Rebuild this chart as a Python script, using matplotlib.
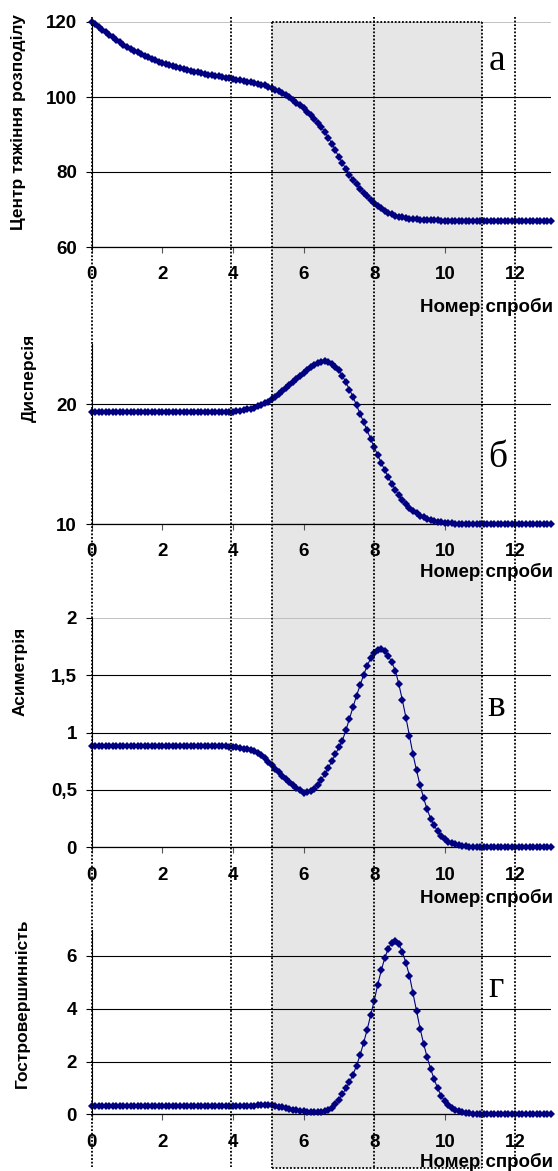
import numpy as np
import matplotlib
matplotlib.use("Agg")
import matplotlib.pyplot as plt
from matplotlib.patches import Rectangle
from matplotlib.lines import Line2D
from matplotlib.transforms import blended_transform_factory
from matplotlib.ticker import FuncFormatter

# ---------------- data ----------------
trial = np.linspace(0, 13, 131)  # sampling positions (step 0.1)

centre = [
    120.0, 119.4, 118.7, 118.0, 117.3, 116.6, 115.9, 115.2, 114.6, 114.0,
    113.4, 112.9, 112.4, 111.9, 111.4, 111.0, 110.6, 110.2, 109.8, 109.4,
    109.1, 108.8, 108.5, 108.2, 107.9, 107.7, 107.4, 107.2, 107.0, 106.8,
    106.6, 106.4, 106.2, 106.0, 105.8, 105.6, 105.5, 105.3, 105.1, 105.0,
    104.8, 104.6, 104.5, 104.3, 104.1, 103.9, 103.7, 103.5, 103.3, 103.1,
    102.8, 102.4, 102.0, 101.6, 101.1, 100.5, 99.9, 99.2, 98.5, 97.8,
    97.0, 96.1, 95.2, 94.2, 93.1, 92.0, 90.7, 89.2, 87.6, 85.8,
    84.0, 82.4, 80.8, 79.3, 78.0, 76.8, 75.6, 74.5, 73.5, 72.6,
    71.8, 71.0, 70.3, 69.7, 69.2, 68.8, 68.4, 68.1, 67.9, 67.7,
    67.6, 67.5, 67.4, 67.3, 67.2, 67.2, 67.1, 67.1, 67.1, 67.0,
    67.0, 67.0, 67.0, 67.0, 67.0, 67.0, 67.0, 67.0, 67.0, 67.0,
    67.0, 67.0, 67.0, 67.0, 67.0, 67.0, 67.0, 67.0, 67.0, 67.0,
    67.0, 67.0, 67.0, 67.0, 67.0, 67.0, 67.0, 67.0, 67.0, 67.0,
    67.0,
]

variance = [
    19.3, 19.3, 19.3, 19.3, 19.3, 19.3, 19.3, 19.3, 19.3, 19.3,
    19.3, 19.3, 19.3, 19.3, 19.3, 19.3, 19.3, 19.3, 19.3, 19.3,
    19.3, 19.3, 19.3, 19.3, 19.3, 19.3, 19.3, 19.3, 19.3, 19.3,
    19.3, 19.3, 19.3, 19.3, 19.3, 19.3, 19.3, 19.3, 19.3, 19.35,
    19.35, 19.4, 19.45, 19.5, 19.55, 19.6, 19.7, 19.8, 19.9, 20.05,
    20.2, 20.4, 20.6, 20.85, 21.1, 21.35, 21.6, 21.85, 22.1, 22.35,
    22.6, 22.85, 23.05, 23.25, 23.4, 23.5, 23.55, 23.5, 23.35, 23.1,
    22.8, 22.35, 21.8, 21.2, 20.6, 19.9, 19.2, 18.5, 17.8, 17.1,
    16.4, 15.75, 15.1, 14.5, 13.9, 13.35, 12.85, 12.4, 12.0, 11.65,
    11.35, 11.1, 10.9, 10.7, 10.55, 10.45, 10.35, 10.25, 10.2, 10.15,
    10.1, 10.07, 10.05, 10.03, 10.02, 10.01, 10.0, 10.0, 10.0, 10.0,
    10.0, 10.0, 10.0, 10.0, 10.0, 10.0, 10.0, 10.0, 10.0, 10.0,
    10.0, 10.0, 10.0, 10.0, 10.0, 10.0, 10.0, 10.0, 10.0, 10.0,
    10.0,
]

skewness = [
    0.88, 0.88, 0.88, 0.88, 0.88, 0.88, 0.88, 0.88, 0.88, 0.88,
    0.88, 0.88, 0.88, 0.88, 0.88, 0.88, 0.88, 0.88, 0.88, 0.88,
    0.88, 0.88, 0.88, 0.88, 0.88, 0.88, 0.88, 0.88, 0.88, 0.88,
    0.88, 0.88, 0.88, 0.88, 0.88, 0.88, 0.88, 0.88, 0.88, 0.875,
    0.873, 0.87, 0.866, 0.86, 0.853, 0.845, 0.835, 0.82, 0.80, 0.775,
    0.745, 0.715, 0.685, 0.655, 0.625, 0.595, 0.565, 0.54, 0.515, 0.495,
    0.475, 0.478, 0.49, 0.51, 0.545, 0.585, 0.635, 0.69, 0.75, 0.81,
    0.87, 0.93, 1.02, 1.12, 1.22, 1.32, 1.41, 1.50, 1.58, 1.645,
    1.69, 1.715, 1.727, 1.71, 1.67, 1.61, 1.54, 1.42, 1.28, 1.13,
    0.97, 0.81, 0.67, 0.54, 0.43, 0.33, 0.25, 0.19, 0.14, 0.10,
    0.07, 0.05, 0.035, 0.025, 0.017, 0.011, 0.007, 0.004, 0.002, 0.001,
    0.0, 0.0, 0.0, 0.0, 0.0, 0.0, 0.0, 0.0, 0.0, 0.0,
    0.0, 0.0, 0.0, 0.0, 0.0, 0.0, 0.0, 0.0, 0.0, 0.0,
    0.0,
]

kurtosis = [
    0.3, 0.3, 0.3, 0.3, 0.3, 0.3, 0.3, 0.3, 0.3, 0.3,
    0.3, 0.3, 0.3, 0.3, 0.3, 0.3, 0.3, 0.3, 0.3, 0.3,
    0.3, 0.3, 0.3, 0.3, 0.3, 0.3, 0.3, 0.3, 0.3, 0.3,
    0.3, 0.3, 0.3, 0.3, 0.3, 0.3, 0.3, 0.3, 0.3, 0.3,
    0.3, 0.3, 0.3, 0.3, 0.3, 0.3, 0.32, 0.35, 0.35, 0.35,
    0.35, 0.34, 0.32, 0.29, 0.26, 0.23, 0.20, 0.17, 0.145, 0.125,
    0.11, 0.095, 0.085, 0.08, 0.08, 0.09, 0.11, 0.15, 0.24, 0.38,
    0.56, 0.76, 0.98, 1.22, 1.50, 1.84, 2.24, 2.70, 3.20, 3.75,
    4.30, 4.90, 5.45, 5.92, 6.28, 6.50, 6.58, 6.45, 6.15, 5.73,
    5.25, 4.58, 3.90, 3.25, 2.68, 2.16, 1.72, 1.32, 0.98, 0.70,
    0.50, 0.36, 0.25, 0.17, 0.12, 0.08, 0.06, 0.04, 0.03, 0.02,
    0.015, 0.01, 0.005, 0.0, 0.0, 0.0, 0.0, 0.0, 0.0, 0.0,
    0.0, 0.0, 0.0, 0.0, 0.0, 0.0, 0.0, 0.0, 0.0, 0.0,
    0.0,
]

y_labels = ["Центр тяжіння розподілу", "Дисперсія", "Асиметрія", "Гостровершинність"]
panel_letters = ["а", "б", "в", "г"]
x_label = "Номер спроби"
x_ticks = [0, 2, 4, 6, 8, 10, 12]
y_ticks = [[60, 80, 100, 120], [10, 20], [0, 0.5, 1, 1.5, 2], [0, 2, 4, 6]]
y_limits = [(60, 120), (10, 25), (0, 2), (0, 7)]
guide_x = [0, 3.95, 8.0, 12.0]
zone = (5.1, 11.05)

# ---------------- layout ----------------
W, H = 558, 1171
fig = plt.figure(figsize=(W / 100, H / 100), dpi=100)
fig.patch.set_facecolor("white")

plt.rcParams["font.family"] = ["Liberation Sans", "DejaVu Sans"]

left_px, right_px = 91.7, 550.7
panels_px = [(22, 247), (344, 524), (617.7, 847.3), (929.5, 1114.3)]
ylabel_pos = [(19, 122), (29, 378), (20, 671), (22, 1003)]
xlabel_y = [307, 572, 898, 1162]
letter_pos = [(497, 61), (498, 458), (496, 707), (496, 988)]

navy = "#000080"
series = [centre, variance, skewness, kurtosis]
axes = []

def fmt_comma(v, pos):
    s = ("%g" % v).replace(".", ",")
    return s

for i, (top, bot) in enumerate(panels_px):
    ax = fig.add_axes([left_px / W, 1 - bot / H, (right_px - left_px) / W, (bot - top) / H])
    axes.append(ax)
    ax.set_facecolor("none")
    ax.plot(trial, series[i], color=navy, lw=0.8, marker="D", ms=4.2,
            markeredgewidth=0, markerfacecolor=navy, zorder=3, clip_on=False)
    ax.set_xlim(0, 13)
    ax.set_ylim(*y_limits[i])
    ax.set_xticks(x_ticks)
    ax.set_yticks(y_ticks[i])
    ax.yaxis.set_major_formatter(FuncFormatter(fmt_comma))
    for s in ["top", "right"]:
        ax.spines[s].set_visible(False)
    ax.spines["left"].set_color("black")
    ax.spines["left"].set_linewidth(0.8)
    ax.spines["bottom"].set_color("black")
    ax.spines["bottom"].set_linewidth(0.9)
    ax.tick_params(axis="x", direction="out", length=4, width=0.8, color="#555555",
                   pad=10, labelsize=13.5)
    ax.tick_params(axis="y", direction="out", length=4.5, width=0.8, color="black",
                   pad=6, labelsize=13.5)
    for lab in ax.get_xticklabels() + ax.get_yticklabels():
        lab.set_fontweight("bold")
    ax.yaxis.grid(True, color="black", lw=0.8)
    ax.set_axisbelow(True)
    grid_lines = ax.get_ygridlines()
    if y_ticks[i][-1] == y_limits[i][1]:
        grid_lines[-1].set_color("#b8b8b8")
        grid_lines[-1].set_linewidth(1.2)

    fig.text(ylabel_pos[i][0] / W, 1 - ylabel_pos[i][1] / H, y_labels[i], rotation=90,
             ha="center", va="center", fontsize=12.5, fontweight="bold")
    fig.text(553 / W, 1 - xlabel_y[i] / H, x_label, ha="right", va="center",
             fontsize=13.5, fontweight="bold")
    fig.text(letter_pos[i][0] / W, 1 - letter_pos[i][1] / H, panel_letters[i],
             ha="center", va="center", fontsize=27, family=["Liberation Serif", "DejaVu Serif"])

# ---------------- overlays ----------------
tr = blended_transform_factory(axes[0].transData, fig.transFigure)
zone_top = 1 - 22 / H
zone_bot = 1 - 1168 / H
rect = Rectangle((zone[0], zone_bot), zone[1] - zone[0], zone_top - zone_bot,
                 transform=tr, facecolor="#e6e6e6", edgecolor="none", zorder=-1)
fig.add_artist(rect)

dot = dict(color="black", lw=1.3, linestyle=(0, (1, 1)), zorder=10)
for gx in guide_x:
    fig.add_artist(Line2D([gx, gx], [1 - 17 / H, 1 - 1167 / H], transform=tr, **dot))
for zx in zone:
    fig.add_artist(Line2D([zx, zx], [zone_top, zone_bot], transform=tr, **dot))
for zy in (zone_top, zone_bot):
    fig.add_artist(Line2D([zone[0], zone[1]], [zy, zy], transform=tr, **dot))

fig.savefig("out.png", dpi=100)
